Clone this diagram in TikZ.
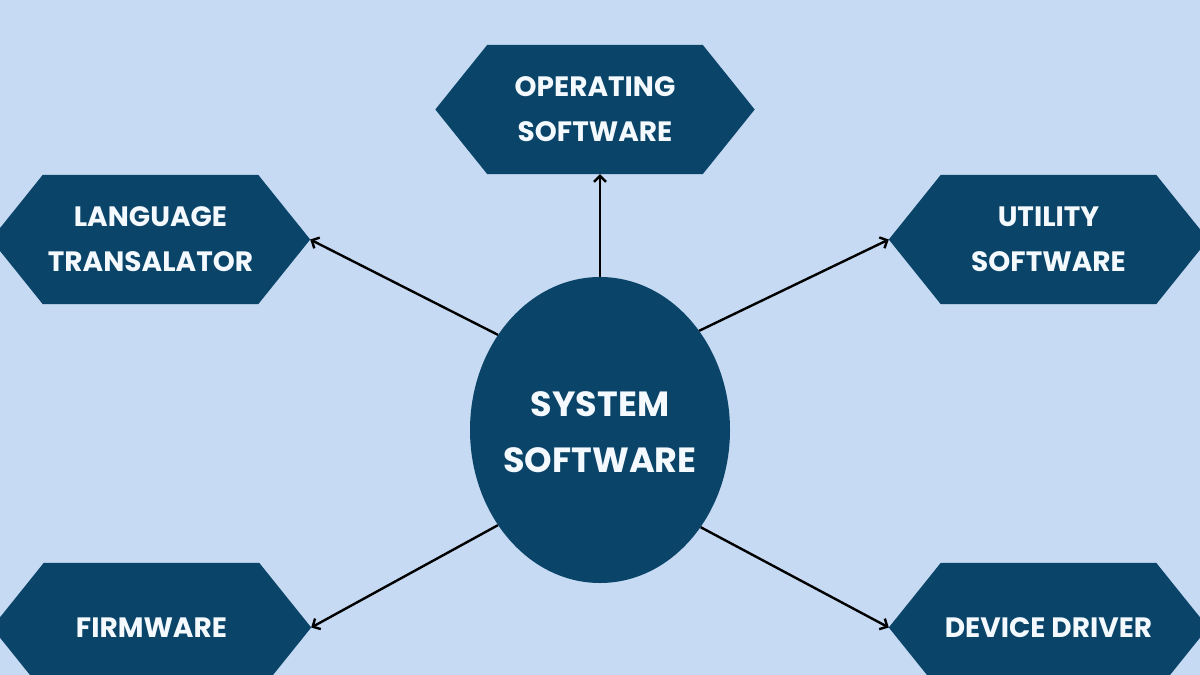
\documentclass[tikz,border=0pt]{standalone}
\usepackage{fontspec}
\setmainfont{Poppins}
\usetikzlibrary{arrows.meta,shapes.geometric,backgrounds}
\definecolor{bgblue}{HTML}{C6DAF3}
\definecolor{hexblue}{HTML}{0B4469}
\definecolor{txt}{HTML}{F4F9FD}
\begin{document}
\begin{tikzpicture}[x=1pt,y=-1pt,
  core/.style={minimum width=215pt, minimum height=129pt, inner sep=0pt, text=txt, align=center, font=\bfseries\fontsize{28}{45}\selectfont},
  hexfill/.style={fill=hexblue},
  centre/.style={ellipse, fill=hexblue, minimum width=260pt, minimum height=306pt, inner sep=0pt},
  centretext/.style={text=txt, align=center, inner sep=0pt, font=\bfseries\fontsize{35}{56}\selectfont},
  conn/.style={draw=black, line width=2.4pt, -{Straight Barb[length=6pt,width=12pt,line width=2.4pt]}},
]
\useasboundingbox (0,0) rectangle (1200,675);
\node[core] (os) at (595,109.5) {OPERATING\\SOFTWARE};
\node[core] (lt) at (150.5,239.5) {LANGUAGE\\TRANSALATOR};
\node[core] (us) at (1048.5,239.5) {UTILITY\\SOFTWARE};
\node[core] (fw) at (151.5,627.5) {FIRMWARE};
\node[core] (dd) at (1048.5,627.5) {DEVICE DRIVER};
\node[centre] (ss) at (600,430) {};
\node[centretext] (sst) at (600,432) {SYSTEM\\SOFTWARE};
\begin{scope}[on background layer]
\fill[bgblue] (0,0) rectangle (1200,675);
\foreach \n in {os,lt,us,fw,dd}
  \fill[hexfill] (\n.north west) -- (\n.north east) -- ([xshift=52pt]\n.east) -- (\n.south east) -- (\n.south west) -- ([xshift=-52pt]\n.west) -- cycle;
\end{scope}
\draw[conn] (ss.north) -- (ss.north |- os.south);
\draw[conn] (ss.137) -- ([xshift=52pt]lt.east);
\draw[conn] (ss.45) -- ([xshift=-52pt]us.west);
\draw[conn] (ss.223) -- ([xshift=52pt]fw.east);
\draw[conn] (ss.316) -- ([xshift=-52pt]dd.west);
\end{tikzpicture}
\end{document}
